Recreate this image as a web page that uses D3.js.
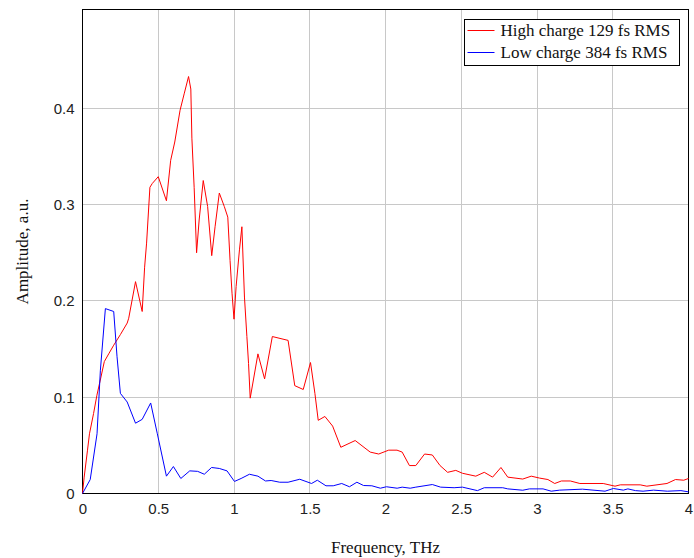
<!DOCTYPE html>
<html>
<head>
<meta charset="utf-8">
<script src="https://cdn.jsdelivr.net/npm/d3@7"></script>
<style>
  body { margin: 0; background: #fff; }
  svg { display: block; }
</style>
</head>
<body>
<div id="chart"></div>
<script>
// Data (frequency in THz, amplitude in a.u.)
const highFreq = [0, 0.011, 0.033, 0.046, 0.073, 0.095, 0.122, 0.144, 0.173, 0.206, 0.25, 0.295, 0.305, 0.35, 0.394, 0.41, 0.423, 0.445, 0.461, 0.5,
  0.554, 0.582, 0.609, 0.644, 0.671, 0.7, 0.715, 0.722, 0.737, 0.753, 0.77, 0.797, 0.826, 0.853, 0.875, 0.903, 0.936, 0.959, 0.974, 0.987,
  1.0, 1.014, 1.036, 1.052, 1.069, 1.085, 1.096, 1.107, 1.158, 1.202, 1.253, 1.357, 1.401, 1.457, 1.505, 1.534, 1.556, 1.6, 1.651, 1.705,
  1.8, 1.899, 1.955, 2.021, 2.076, 2.11, 2.158, 2.2, 2.258, 2.309, 2.36, 2.41, 2.464, 2.508, 2.596, 2.652, 2.707, 2.762, 2.807, 2.906,
  2.962, 3.017, 3.072, 3.117, 3.161, 3.22, 3.283, 3.437, 3.515, 3.55, 3.681, 3.725, 3.858, 3.914, 3.969, 4.0];
const highAmp = [0, 0.017, 0.045, 0.062, 0.083, 0.102, 0.121, 0.137, 0.145, 0.154, 0.165, 0.177, 0.182, 0.22, 0.189, 0.235, 0.26, 0.318, 0.322, 0.329,
  0.304, 0.346, 0.365, 0.398, 0.415, 0.433, 0.42, 0.369, 0.318, 0.25, 0.284, 0.325, 0.298, 0.247, 0.277, 0.312, 0.298, 0.287, 0.242, 0.208,
  0.181, 0.215, 0.253, 0.277, 0.204, 0.163, 0.135, 0.099, 0.145, 0.119, 0.163, 0.159, 0.112, 0.108, 0.136, 0.104, 0.076, 0.08, 0.07, 0.048,
  0.055, 0.043, 0.041, 0.045, 0.045, 0.043, 0.029, 0.029, 0.041, 0.04, 0.029, 0.022, 0.024, 0.021, 0.018, 0.022, 0.017, 0.027, 0.017, 0.015,
  0.018, 0.016, 0.0145, 0.0104, 0.013, 0.013, 0.0104, 0.0104, 0.0076, 0.009, 0.009, 0.0076, 0.0104, 0.0145, 0.0138, 0.0156];

const lowFreq = [0, 0.051, 0.096, 0.118, 0.151, 0.206, 0.228, 0.25, 0.295, 0.35, 0.394, 0.45, 0.494, 0.554, 0.6, 0.649, 0.708, 0.76, 0.804, 0.852,
  0.903, 0.954, 1.003, 1.047, 1.102, 1.158, 1.208, 1.245, 1.302, 1.357, 1.434, 1.512, 1.55, 1.607, 1.655, 1.711, 1.762, 1.811, 1.855, 1.91,
  1.966, 2.006, 2.077, 2.11, 2.163, 2.2, 2.309, 2.364, 2.453, 2.508, 2.607, 2.652, 2.774, 2.807, 2.906, 2.95, 3.04, 3.094, 3.15, 3.3,
  3.449, 3.504, 3.57, 3.6, 3.65, 3.7, 3.77, 3.86, 3.95, 4.0];
const lowAmp = [0, 0.0145, 0.062, 0.128, 0.192, 0.189, 0.142, 0.104, 0.095, 0.073, 0.077, 0.094, 0.062, 0.018, 0.028, 0.0156, 0.0235, 0.023, 0.02, 0.027,
  0.026, 0.0235, 0.0125, 0.0156, 0.02, 0.018, 0.013, 0.0135, 0.0117, 0.0117, 0.0148, 0.0104, 0.0138, 0.008, 0.008, 0.0104, 0.007, 0.0117, 0.0083, 0.008,
  0.0055, 0.007, 0.0055, 0.0066, 0.0055, 0.0066, 0.0093, 0.0066, 0.006, 0.0066, 0.003, 0.006, 0.006, 0.0048, 0.0034, 0.0048, 0.0048, 0.0024, 0.0035, 0.0045,
  0.0024, 0.0052, 0.0035, 0.0048, 0.003, 0.0024, 0.0035, 0.0024, 0.003, 0.0017];

const seriesNames = ["High charge 129 fs RMS", "Low charge 384 fs RMS"];
const seriesColors = ["#ff0000", "#0000ff"];
const xTicks = [0, 0.5, 1, 1.5, 2, 2.5, 3, 3.5, 4];
const yTicks = [0, 0.1, 0.2, 0.3, 0.4];

const W = 694, H = 558;
const margin = { top: 9.5, right: 5.5, bottom: 64.5, left: 82.5 };
const innerW = W - margin.left - margin.right;
const innerH = H - margin.top - margin.bottom;

const x = d3.scaleLinear().domain([0, 4]).range([0, innerW]);
const y = d3.scaleLinear().domain([0, 0.5026]).range([innerH, 0]);

const serif = "'Liberation Serif', 'Times New Roman', serif";

const svg = d3.select("#chart").append("svg")
  .attr("width", W)
  .attr("height", H);

const g = svg.append("g")
  .attr("transform", "translate(" + margin.left + "," + margin.top + ")");

// grid
g.append("g")
  .selectAll("line")
  .data(xTicks.slice(1, -1))
  .enter()
  .append("line")
  .attr("x1", (d) => Math.round(x(d)))
  .attr("x2", (d) => Math.round(x(d)))
  .attr("y1", 0)
  .attr("y2", innerH)
  .attr("stroke", "#c8c8c8");

g.append("g")
  .selectAll("line")
  .data(yTicks.slice(1))
  .enter()
  .append("line")
  .attr("x1", 0)
  .attr("x2", innerW)
  .attr("y1", (d) => Math.round(y(d)))
  .attr("y2", (d) => Math.round(y(d)))
  .attr("stroke", "#c8c8c8");

// axes (labels only, no tick marks)
const xAxis = d3.axisBottom(x).tickValues(xTicks).tickSize(0).tickPadding(10).tickFormat(d3.format(""));
const yAxis = d3.axisLeft(y).tickValues(yTicks).tickSize(0).tickPadding(8).tickFormat(d3.format(""));

g.append("g")
  .attr("transform", "translate(0," + innerH + ")")
  .call(xAxis)
  .call((a) => a.select(".domain").remove());

g.append("g")
  .call(yAxis)
  .call((a) => a.select(".domain").remove());

g.selectAll(".tick text")
  .attr("fill", "#222")
  .style("font-family", "'Liberation Sans', Arial, sans-serif")
  .style("font-size", "15px");

// frame
g.append("rect")
  .attr("x", 0)
  .attr("y", 0)
  .attr("width", innerW)
  .attr("height", innerH)
  .attr("fill", "none")
  .attr("stroke", "#000");

// lines
const line = d3.line()
  .x((d) => x(d[0]))
  .y((d) => y(d[1]));

const series = [
  d3.zip(highFreq, highAmp),
  d3.zip(lowFreq, lowAmp),
];

g.selectAll(".series")
  .data(series)
  .enter()
  .append("path")
  .attr("class", "series")
  .attr("fill", "none")
  .attr("stroke", (d, i) => seriesColors[i])
  .attr("stroke-width", 1)
  .attr("d", line);

// legend
const legend = svg.append("g").attr("transform", "translate(464.5,19.5)");
legend.append("rect")
  .attr("width", 215)
  .attr("height", 46)
  .attr("fill", "#fff")
  .attr("stroke", "#000");

const rows = legend.selectAll(".row")
  .data(seriesNames)
  .enter()
  .append("g")
  .attr("class", "row")
  .attr("transform", (d, i) => "translate(0," + (11 + i * 22) + ")");

rows.append("line")
  .attr("x1", 3)
  .attr("x2", 30)
  .attr("stroke", (d, i) => seriesColors[i]);

rows.append("text")
  .attr("x", 36)
  .attr("dy", "0.35em")
  .style("font-family", serif)
  .style("font-size", "17px")
  .attr("fill", "#111")
  .text((d) => d);

// axis titles
svg.append("text")
  .attr("x", margin.left + innerW / 2)
  .attr("y", 553)
  .attr("text-anchor", "middle")
  .style("font-family", serif)
  .style("font-size", "17px")
  .attr("fill", "#111")
  .text("Frequency, THz");

svg.append("text")
  .attr("transform", "translate(28," + (margin.top + innerH / 2) + ") rotate(-90)")
  .attr("text-anchor", "middle")
  .style("font-family", serif)
  .style("font-size", "17px")
  .attr("fill", "#111")
  .text("Amplitude, a.u.");
</script>
</body>
</html>
